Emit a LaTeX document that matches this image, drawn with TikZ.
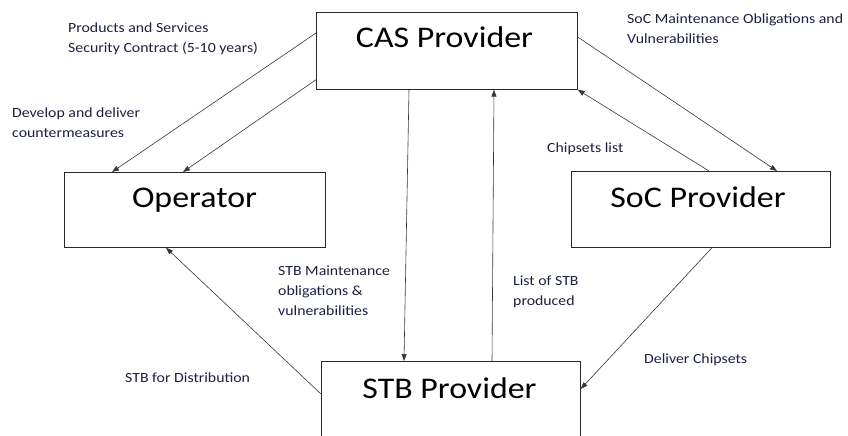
\documentclass[tikz,border=0pt]{standalone}
\usepackage{fontspec}
\setmainfont{Carlito}[FakeStretch=1.13]
\usetikzlibrary{arrows.meta}
\definecolor{labelink}{RGB}{28,32,66}
\definecolor{edgeink}{RGB}{55,55,55}
\definecolor{boxline}{RGB}{40,40,40}
\begin{document}
\begin{tikzpicture}[x=1pt,y=-1pt,
  box/.style={draw=boxline, line width=0.7pt, inner sep=0pt, anchor=north west},
  title/.style={font=\fontsize{30}{36}\selectfont, anchor=base, inner sep=0pt},
  lbl/.style={font=\fontsize{14}{20}\selectfont, text=labelink, anchor=base west, inner sep=0pt},
  link/.style={draw=edgeink, line width=0.6pt, -{Triangle[length=7pt,width=5pt]}}]
\useasboundingbox (0,0) rectangle (848,436);
\fill[white] (0,0) rectangle (848,436);
\clip (0,0) rectangle (848,436);

% party boxes
\node[box, minimum width=261pt, minimum height=77pt] (cas) at (316,12) {};
\node[box, minimum width=261pt, minimum height=75pt] (op)  at (64,172) {};
\node[box, minimum width=259pt, minimum height=76pt] (soc) at (571,171) {};
\node[box, minimum width=259pt, minimum height=84pt] (stb) at (321,361) {};

% box titles
\node[title] (castitle) at (444.5,48) {CAS Provider};
\node[title] (optitle)  at (194.5,207) {Operator};
\node[title] (soctitle) at (698,207) {SoC Provider};
\node[title] (stbtitle) at (449.5,398) {STB Provider};

% flows between parties
\draw[link] ([yshift=-21pt]cas.north west) -- ([xshift=48pt]op.north west);
\draw[link] ([yshift=10pt]cas.south west) -- ([xshift=119pt]op.north west);
\draw[link] ([xshift=93pt]cas.south west) -- ([xshift=83pt]stb.north west);
\draw[link] ([xshift=171pt]stb.north west) -- ([xshift=178pt]cas.south west);
\draw[link] ([xshift=138pt]soc.north west) -- (cas.south east);
\draw[link] ([yshift=-25pt]cas.north east) -- ([xshift=206pt]soc.north west);
\draw[link] ([xshift=141pt]soc.south west) -- ([yshift=-28pt]stb.north east);
\draw[link] ([yshift=-33pt]stb.north west) -- ([xshift=102pt]op.south west);

% flow labels
\node[lbl] (lcontract) at (68,32.5) {\begin{tabular}[t]{@{}l@{}}Products and Services\\Security Contract (5-10 years)\end{tabular}};
\node[lbl] (lcounter) at (12,117.5) {\begin{tabular}[t]{@{}l@{}}Develop and deliver\\countermeasures\end{tabular}};
\node[lbl] (lsocobl) at (627,23.5) {\begin{tabular}[t]{@{}l@{}}SoC Maintenance Obligations and\\Vulnerabilities\end{tabular}};
\node[lbl] (lchiplist) at (547,152.5) {Chipsets list};
\node[lbl] (lstbobl) at (278,275.5) {\begin{tabular}[t]{@{}l@{}}STB Maintenance\\obligations \&\\vulnerabilities\end{tabular}};
\node[lbl] (lstblist) at (513,285.5) {\begin{tabular}[t]{@{}l@{}}List of STB\\produced\end{tabular}};
\node[lbl] (ldeliver) at (644,363.5) {Deliver Chipsets};
\node[lbl] (ldistrib) at (125,382.5) {STB for Distribution};
\end{tikzpicture}
\end{document}
